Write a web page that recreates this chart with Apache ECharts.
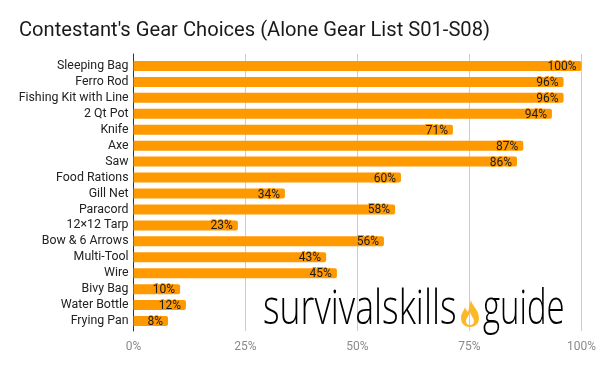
<!DOCTYPE html>
<html><head><meta charset="utf-8">
<style>html,body{margin:0;padding:0;background:#fff}#c{width:600px;height:371px}</style>
<script src="https://cdn.jsdelivr.net/npm/echarts@6/dist/echarts.min.js"></script>
</head><body><div id="c"></div>
<script>
const titleText = "Contestant's Gear Choices (Alone Gear List S01-S08)";
const categories = ["Sleeping Bag","Ferro Rod","Fishing Kit with Line","2 Qt Pot","Knife","Axe","Saw","Food Rations","Gill Net","Paracord","12×12 Tarp","Bow & 6 Arrows","Multi-Tool","Wire","Bivy Bag","Water Bottle","Frying Pan"];
const barLengths = [100,96,96,93.4,71.3,87,85.6,59.7,33.8,58.4,23.3,55.9,43,45.4,10.4,11.7,7.7];
const percentLabels = ["100%","96%","96%","94%","71%","87%","86%","60%","34%","58%","23%","56%","43%","45%","10%","12%","8%"];
const logoWords = ["survivalskills","guide"];
const font = "Roboto";
const Flame = echarts.graphic.extendPath('M10 0C11 6 18 10 18 18C18 24 14 27 9 27C4 27 0 24 0 18C0 13 3 11 4 7C5 10 6 11 7 12C8 8 9 4 10 0ZM9 12C8 16 5 18 5 21C5 24 7 25 9 25C11 25 13 24 13 21C13 18 10 16 9 12Z', {});
echarts.graphic.registerShape('flame', Flame);
const chart = echarts.init(document.getElementById('c'), null, {renderer:'canvas'});
chart.setOption({
  animation:false,
  backgroundColor:'#fff',
  title:{text:titleText,left:19,top:21,padding:0,textStyle:{fontFamily:font,fontSize:20.15,fontWeight:'normal',color:'#1a1a1a'}},
  grid:[
    {left:133.5,width:448,top:58,height:271},
    {left:133.5,width:448,top:54,height:277}
  ],
  xAxis:[
    {type:'value',gridIndex:0,min:0,max:100,interval:25,show:false},
    {type:'value',gridIndex:1,min:0,max:100,interval:25,
      axisLine:{show:false},axisTick:{show:false},
      splitLine:{show:true,lineStyle:{color:'#cccccc',width:1}},
      axisLabel:{fontFamily:font,fontSize:12,color:'#8a8a8a',margin:10,formatter:'{value}%'}}
  ],
  yAxis:[
    {type:'category',gridIndex:0,inverse:true,data:categories,
      axisLine:{show:false},axisTick:{show:false},
      axisLabel:{fontFamily:font,fontSize:12.35,color:'#222',margin:5,interval:0,padding:[2,0,0,0]}},
    {type:'category',gridIndex:1,data:[''],
      axisLine:{show:true,lineStyle:{color:'#333',width:1}},axisTick:{show:false},axisLabel:{show:false}}
  ],
  series:[{
    type:'bar',xAxisIndex:0,yAxisIndex:0,data:barLengths,barWidth:10,
    itemStyle:{color:'#ff9900',borderRadius:[0,2,2,0]},
    label:{show:true,position:'insideRight',distance:5,offset:[0,1],formatter:p=>percentLabels[p.dataIndex],fontFamily:font,fontSize:12,color:'#1a1a1a',textBorderColor:'#ff9900',textBorderWidth:2}
  }],
  graphic:[
    {type:'text',z:50,x:263,y:287,scaleX:0.757,style:{text:logoWords[0],font:'300 47px "Open Sans"',fill:'#000',textBaseline:'alphabetic'}},
    {type:'text',z:50,x:483,y:287,scaleX:0.7,style:{text:logoWords[1],font:'300 47px "Open Sans"',fill:'#000',textBaseline:'alphabetic'}},
    {type:'flame',z:50,x:461,y:300,shape:{},style:{fill:'#fbb829'}}
  ]
});
</script></body></html>
